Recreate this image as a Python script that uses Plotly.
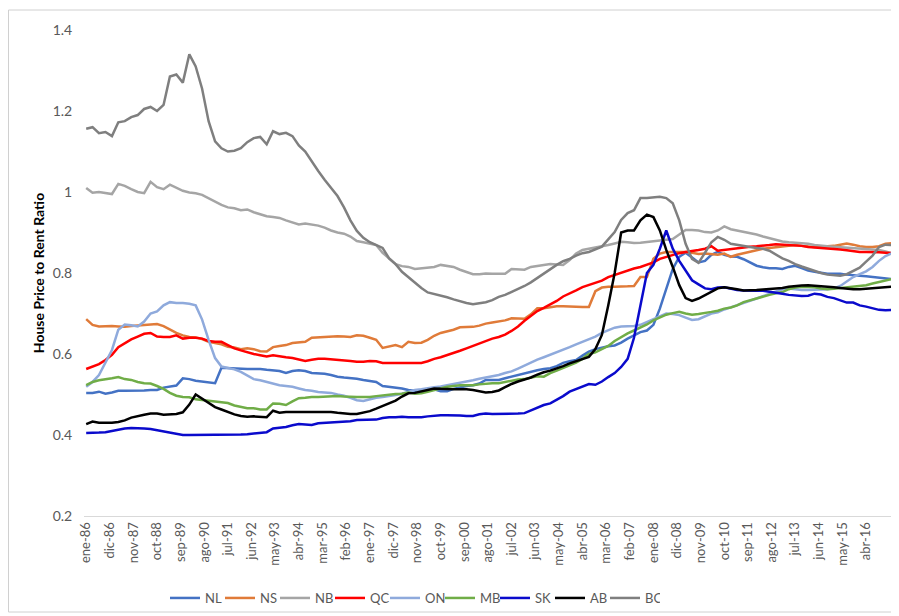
import pandas as pd
import plotly.graph_objects as go

# Quarterly observation dates (Jan 1986 .. Apr 2017)
dates = pd.date_range("1986-01-01", "2017-04-01", freq="QS")

tick_labels = ["ene-86", "dic-86", "nov-87", "oct-88", "sep-89", "ago-90", "jul-91", "jun-92",
               "may-93", "abr-94", "mar-95", "feb-96", "ene-97", "dic-97", "nov-98", "oct-99",
               "sep-00", "ago-01", "jul-02", "jun-03", "may-04", "abr-05", "mar-06", "feb-07",
               "ene-08", "dic-08", "nov-09", "oct-10", "sep-11", "ago-12", "jul-13", "jun-14",
               "may-15", "abr-16"]

NL = [0.504, 0.504, 0.507, 0.502, 0.505, 0.509, 0.509, 0.509, 0.509, 0.510, 0.511, 0.511,
      0.517, 0.520, 0.522, 0.540, 0.538, 0.534, 0.532, 0.531, 0.528, 0.566, 0.565, 0.564,
      0.563, 0.563, 0.563, 0.563, 0.561, 0.559, 0.558, 0.553, 0.558, 0.560, 0.558, 0.553,
      0.552, 0.551, 0.548, 0.544, 0.542, 0.541, 0.539, 0.536, 0.534, 0.531, 0.521, 0.519,
      0.517, 0.515, 0.511, 0.509, 0.511, 0.512, 0.513, 0.508, 0.508, 0.514, 0.518, 0.521,
      0.523, 0.527, 0.536, 0.536, 0.536, 0.540, 0.544, 0.548, 0.553, 0.557, 0.560, 0.563,
      0.565, 0.570, 0.578, 0.582, 0.585, 0.596, 0.606, 0.612, 0.616, 0.619, 0.621, 0.628,
      0.638, 0.645, 0.654, 0.658, 0.672, 0.712, 0.760, 0.810, 0.840, 0.850, 0.838, 0.826,
      0.830, 0.845, 0.852, 0.845, 0.841, 0.840, 0.834, 0.826, 0.818, 0.814, 0.812, 0.812,
      0.810, 0.815, 0.818, 0.812, 0.806, 0.803, 0.800, 0.798, 0.798, 0.798, 0.796, 0.794,
      0.793, 0.792, 0.790, 0.789, 0.787, 0.785]

NS = [0.686, 0.672, 0.668, 0.669, 0.669, 0.668, 0.667, 0.669, 0.670, 0.672, 0.673, 0.674,
      0.669, 0.660, 0.652, 0.646, 0.642, 0.641, 0.637, 0.630, 0.627, 0.624, 0.618, 0.616,
      0.612, 0.614, 0.612, 0.607, 0.606, 0.617, 0.620, 0.622, 0.627, 0.629, 0.630, 0.640,
      0.641, 0.642, 0.644, 0.644, 0.643, 0.642, 0.646, 0.645, 0.640, 0.635, 0.615, 0.619,
      0.622, 0.617, 0.630, 0.627, 0.628, 0.635, 0.645, 0.652, 0.656, 0.660, 0.666, 0.667,
      0.667, 0.670, 0.675, 0.678, 0.680, 0.683, 0.688, 0.687, 0.687, 0.698, 0.713, 0.713,
      0.716, 0.718, 0.718, 0.717, 0.716, 0.716, 0.716, 0.755, 0.764, 0.766, 0.766, 0.766,
      0.767, 0.768, 0.790, 0.790, 0.835, 0.848, 0.852, 0.852, 0.852, 0.852, 0.850, 0.847,
      0.848, 0.846, 0.845, 0.848, 0.840, 0.845, 0.849, 0.853, 0.857, 0.860, 0.862, 0.864,
      0.866, 0.868, 0.869, 0.867, 0.865, 0.864, 0.865, 0.866, 0.867, 0.870, 0.873, 0.870,
      0.866, 0.864, 0.864, 0.866, 0.872, 0.874]

NB = [1.010, 0.998, 1.000, 0.998, 0.995, 1.020, 1.015, 1.007, 1.000, 0.997, 1.025, 1.012,
      1.007, 1.018, 1.010, 1.003, 0.999, 0.997, 0.993, 0.985, 0.975, 0.968, 0.962, 0.960,
      0.955, 0.957, 0.950, 0.945, 0.940, 0.938, 0.936, 0.930, 0.925, 0.920, 0.922, 0.920,
      0.917, 0.912, 0.905, 0.900, 0.897, 0.890, 0.879, 0.876, 0.872, 0.869, 0.850, 0.835,
      0.822, 0.817, 0.815, 0.810, 0.812, 0.813, 0.815, 0.820, 0.818, 0.815, 0.808, 0.803,
      0.797, 0.797, 0.799, 0.798, 0.798, 0.798, 0.810, 0.809, 0.808, 0.815, 0.818, 0.820,
      0.822, 0.821, 0.820, 0.832, 0.848, 0.857, 0.860, 0.862, 0.866, 0.869, 0.873, 0.877,
      0.876, 0.874, 0.875, 0.877, 0.878, 0.880, 0.882, 0.884, 0.895, 0.906, 0.906, 0.905,
      0.901, 0.900, 0.905, 0.915, 0.908, 0.905, 0.902, 0.899, 0.895, 0.890, 0.886, 0.882,
      0.878, 0.876, 0.875, 0.873, 0.872, 0.869, 0.867, 0.866, 0.865, 0.864, 0.863, 0.862,
      0.861, 0.859, 0.858, 0.857, 0.853, 0.849]

QC = [0.563, 0.568, 0.575, 0.585, 0.598, 0.617, 0.627, 0.636, 0.643, 0.650, 0.652, 0.643,
      0.642, 0.642, 0.646, 0.638, 0.640, 0.640, 0.638, 0.632, 0.630, 0.630, 0.622, 0.614,
      0.609, 0.604, 0.600, 0.597, 0.594, 0.597, 0.594, 0.592, 0.590, 0.586, 0.583, 0.586,
      0.588, 0.588, 0.587, 0.585, 0.584, 0.583, 0.581, 0.581, 0.583, 0.582, 0.578, 0.578,
      0.578, 0.578, 0.578, 0.578, 0.578, 0.582, 0.588, 0.592, 0.597, 0.602, 0.608, 0.614,
      0.620, 0.625, 0.632, 0.638, 0.642, 0.648, 0.657, 0.668, 0.682, 0.695, 0.706, 0.714,
      0.723, 0.731, 0.742, 0.749, 0.757, 0.765, 0.770, 0.775, 0.781, 0.790, 0.795, 0.802,
      0.807, 0.811, 0.815, 0.820, 0.826, 0.835, 0.840, 0.845, 0.849, 0.852, 0.854, 0.857,
      0.860, 0.866, 0.855, 0.857, 0.859, 0.861, 0.864, 0.865, 0.866, 0.867, 0.869, 0.871,
      0.870, 0.869, 0.869, 0.867, 0.864, 0.863, 0.862, 0.861, 0.860, 0.858, 0.856, 0.854,
      0.852, 0.852, 0.852, 0.851, 0.850, 0.849]

ON = [0.519, 0.531, 0.548, 0.578, 0.610, 0.660, 0.673, 0.671, 0.668, 0.680, 0.700, 0.705,
      0.720, 0.728, 0.726, 0.726, 0.724, 0.720, 0.685, 0.635, 0.590, 0.569, 0.566, 0.562,
      0.556, 0.546, 0.538, 0.535, 0.531, 0.527, 0.523, 0.521, 0.519, 0.515, 0.511, 0.509,
      0.506, 0.505, 0.504, 0.500, 0.497, 0.492, 0.486, 0.484, 0.488, 0.492, 0.494, 0.496,
      0.499, 0.502, 0.507, 0.511, 0.513, 0.516, 0.518, 0.520, 0.523, 0.526, 0.528, 0.531,
      0.535, 0.539, 0.542, 0.545, 0.548, 0.553, 0.557, 0.564, 0.572, 0.579, 0.586, 0.592,
      0.598, 0.604, 0.611, 0.617, 0.624, 0.630, 0.638, 0.643, 0.652, 0.659, 0.665, 0.668,
      0.669, 0.669, 0.672, 0.679, 0.686, 0.693, 0.700, 0.699, 0.696, 0.690, 0.684, 0.686,
      0.693, 0.700, 0.703, 0.710, 0.715, 0.720, 0.726, 0.732, 0.737, 0.743, 0.748, 0.754,
      0.760, 0.762, 0.760, 0.758, 0.758, 0.758, 0.759, 0.760, 0.762, 0.768, 0.780, 0.790,
      0.797, 0.804, 0.815, 0.830, 0.842, 0.849]

MB = [0.523, 0.531, 0.535, 0.537, 0.540, 0.543, 0.538, 0.536, 0.531, 0.528, 0.527, 0.521,
      0.514, 0.504, 0.497, 0.494, 0.493, 0.488, 0.486, 0.484, 0.482, 0.481, 0.479, 0.473,
      0.469, 0.466, 0.466, 0.463, 0.463, 0.478, 0.477, 0.474, 0.483, 0.491, 0.492, 0.494,
      0.494, 0.495, 0.496, 0.496, 0.495, 0.494, 0.494, 0.494, 0.494, 0.496, 0.498, 0.500,
      0.501, 0.502, 0.505, 0.502, 0.503, 0.507, 0.511, 0.516, 0.519, 0.521, 0.523, 0.523,
      0.523, 0.525, 0.527, 0.528, 0.528, 0.531, 0.534, 0.537, 0.538, 0.541, 0.545, 0.544,
      0.553, 0.559, 0.565, 0.572, 0.579, 0.588, 0.600, 0.604, 0.612, 0.620, 0.632, 0.642,
      0.651, 0.658, 0.665, 0.673, 0.683, 0.691, 0.697, 0.701, 0.704, 0.700, 0.697, 0.699,
      0.701, 0.704, 0.707, 0.712, 0.715, 0.720, 0.728, 0.733, 0.738, 0.742, 0.746, 0.750,
      0.753, 0.760, 0.764, 0.766, 0.766, 0.765, 0.762, 0.760, 0.761, 0.763, 0.764, 0.766,
      0.768, 0.770, 0.774, 0.778, 0.782, 0.785]

SK = [0.405, 0.405, 0.406, 0.407, 0.410, 0.413, 0.416, 0.417, 0.417, 0.416, 0.415, 0.412,
      0.409, 0.405, 0.402, 0.400, 0.400, 0.400, 0.400, 0.400, 0.400, 0.400, 0.400, 0.400,
      0.401, 0.402, 0.404, 0.406, 0.407, 0.416, 0.418, 0.420, 0.424, 0.427, 0.426, 0.425,
      0.429, 0.430, 0.430, 0.431, 0.432, 0.434, 0.437, 0.437, 0.437, 0.438, 0.442, 0.444,
      0.444, 0.445, 0.444, 0.444, 0.444, 0.446, 0.448, 0.449, 0.449, 0.449, 0.448, 0.447,
      0.447, 0.451, 0.453, 0.452, 0.452, 0.452, 0.452, 0.453, 0.454, 0.460, 0.468, 0.474,
      0.478, 0.486, 0.496, 0.507, 0.514, 0.520, 0.526, 0.524, 0.532, 0.543, 0.553, 0.568,
      0.588, 0.640, 0.720, 0.800, 0.820, 0.860, 0.905, 0.860, 0.830, 0.807, 0.782, 0.772,
      0.762, 0.760, 0.764, 0.765, 0.762, 0.758, 0.757, 0.756, 0.756, 0.756, 0.754, 0.752,
      0.749, 0.746, 0.744, 0.743, 0.744, 0.749, 0.747, 0.741, 0.738, 0.733, 0.727, 0.727,
      0.720, 0.717, 0.713, 0.709, 0.708, 0.709]

AB = [0.427, 0.433, 0.430, 0.430, 0.430, 0.432, 0.436, 0.443, 0.447, 0.450, 0.453, 0.453,
      0.450, 0.451, 0.452, 0.456, 0.475, 0.500, 0.490, 0.479, 0.469, 0.463, 0.457, 0.451,
      0.447, 0.445, 0.446, 0.445, 0.444, 0.460, 0.455, 0.457, 0.457, 0.457, 0.457, 0.457,
      0.457, 0.457, 0.457, 0.455, 0.453, 0.452, 0.452, 0.455, 0.459, 0.465, 0.471, 0.478,
      0.485, 0.495, 0.503, 0.504, 0.508, 0.512, 0.515, 0.514, 0.513, 0.513, 0.513, 0.513,
      0.511, 0.508, 0.505, 0.506, 0.510, 0.518, 0.526, 0.532, 0.537, 0.542, 0.549, 0.555,
      0.559, 0.564, 0.570, 0.577, 0.583, 0.588, 0.593, 0.612, 0.647, 0.720, 0.800, 0.900,
      0.905, 0.905, 0.930, 0.944, 0.938, 0.905, 0.857, 0.815, 0.770, 0.738, 0.731, 0.737,
      0.745, 0.753, 0.762, 0.765, 0.763, 0.760, 0.757, 0.757, 0.758, 0.759, 0.760, 0.761,
      0.763, 0.766, 0.768, 0.769, 0.770, 0.769, 0.767, 0.766, 0.765, 0.763, 0.761, 0.760,
      0.760, 0.761, 0.763, 0.763, 0.764, 0.766]

BC = [1.156, 1.160, 1.145, 1.148, 1.138, 1.172, 1.175, 1.185, 1.190, 1.205, 1.210, 1.200,
      1.215, 1.285, 1.290, 1.270, 1.340, 1.310, 1.255, 1.175, 1.125, 1.108, 1.100, 1.102,
      1.108, 1.123, 1.133, 1.136, 1.118, 1.150, 1.143, 1.146, 1.138, 1.115, 1.100, 1.075,
      1.052, 1.030, 1.010, 0.990, 0.962, 0.930, 0.904, 0.887, 0.876, 0.869, 0.862, 0.836,
      0.822, 0.803, 0.790, 0.775, 0.763, 0.752, 0.748, 0.745, 0.740, 0.735, 0.730, 0.726,
      0.723, 0.726, 0.728, 0.733, 0.741, 0.746, 0.753, 0.760, 0.768, 0.777, 0.788, 0.798,
      0.810, 0.820, 0.829, 0.835, 0.843, 0.849, 0.852, 0.858, 0.865, 0.883, 0.901, 0.931,
      0.948, 0.955, 0.985, 0.985, 0.986, 0.988, 0.985, 0.972, 0.930, 0.872, 0.835, 0.825,
      0.850, 0.876, 0.889, 0.882, 0.872, 0.869, 0.866, 0.864, 0.862, 0.860, 0.855, 0.845,
      0.836, 0.830, 0.822, 0.816, 0.810, 0.804, 0.800, 0.796, 0.795, 0.793, 0.797, 0.805,
      0.813, 0.828, 0.843, 0.864, 0.870, 0.869]

series = [("NL", NL, "#4472C4"), ("NS", NS, "#E07B39"), ("NB", NB, "#A5A5A5"),
          ("QC", QC, "#FF0000"), ("ON", ON, "#8FAADC"), ("MB", MB, "#70AD47"),
          ("SK", SK, "#0A0ACC"), ("AB", AB, "#000000"), ("BC", BC, "#7F7F7F")]

fig = go.Figure()
for name, vals, color in series:
    fig.add_trace(go.Scatter(x=dates, y=vals, mode="lines", name=name,
                             line=dict(color=color, width=2.5)))

tick_vals = pd.date_range("1986-01-01", periods=len(tick_labels), freq="11MS")

# The page body adds an 8 px offset, so the figure is 8 px smaller and shifted.
OFF = 8
font_family = "Lato, 'Open Sans', sans-serif"
W, H = 899 - OFF, 616 - OFF
L, T = 84 - OFF, 30 - OFF
R = W - (894 - OFF)
B = H - (516 - OFF)
PW, PH = W - L - R, H - T - B


def fx(page_x):
    return (page_x - OFF - L) / PW


def fy(page_y):
    return (H - B - (page_y - OFF)) / PH


fig.update_layout(
    width=W, height=H,
    margin=dict(l=L, r=R, t=T, b=B, autoexpand=False),
    paper_bgcolor="white", plot_bgcolor="white",
    font=dict(family=font_family, size=13, color="#595959"),
    showlegend=True,
    legend=dict(orientation="h", xref="container", yref="container",
                x=(165 - OFF) / W, xanchor="left", y=1 - (598 - OFF) / H, yanchor="middle",
                font=dict(size=13, color="#595959"), entrywidth=10, entrywidthmode="pixels",
                bgcolor="rgba(0,0,0,0)"),
    xaxis=dict(range=["1985-12-01", "2017-05-01"], tickmode="array", tickvals=tick_vals,
               ticktext=tick_labels, tickangle=-90, showgrid=False, zeroline=False,
               showline=True, linecolor="#D9D9D9", linewidth=1, ticks="", automargin=False,
               tickfont=dict(size=13, color="#595959")),
    yaxis=dict(range=[0.2, 1.4], tickmode="array",
               tickvals=[0.2, 0.4, 0.6, 0.8, 1.0, 1.2, 1.4],
               ticktext=["0.2", "0.4", "0.6", "0.8", "1", "1.2", "1.4"],
               showgrid=False, zeroline=False, showline=False, automargin=False,
               ticks="outside", ticklen=8, tickcolor="rgba(0,0,0,0)",
               tickfont=dict(size=14, color="#595959"),
               title=dict(text="<b>House Price to Rent Ratio</b>",
                          font=dict(size=14, color="#000000"), standoff=4)),
    shapes=[dict(type="rect", xref="paper", yref="paper",
                 x0=fx(8.5), x1=fx(897), y0=fy(612), y1=fy(10),
                 line=dict(color="#D0D0D0", width=1), fillcolor="rgba(0,0,0,0)", layer="above")],
)

fig.write_html("out.html")
